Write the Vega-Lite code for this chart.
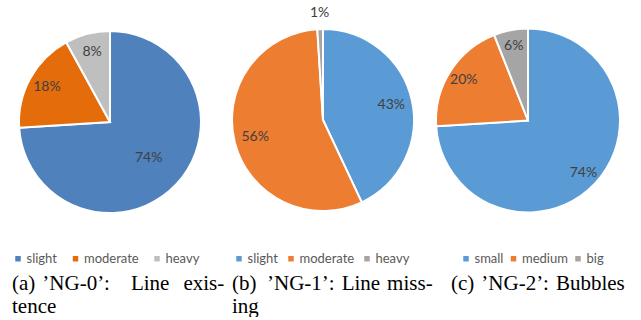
{
  "$schema": "https://vega.github.io/schema/vega-lite/v6.json",
  "padding": 0,
  "background": "white",
  "spacing": 0,
  "bounds": "flush",
  "datasets": {
    "ng0": [
      {"level": "slight", "share": 0.74, "rank": 1},
      {"level": "moderate", "share": 0.18, "rank": 2},
      {"level": "heavy", "share": 0.08, "rank": 3}
    ],
    "ng1": [
      {"level": "slight", "share": 0.43, "rank": 1},
      {"level": "moderate", "share": 0.56, "rank": 2},
      {"level": "heavy", "share": 0.01, "rank": 3}
    ],
    "ng2": [
      {"level": "small", "share": 0.74, "rank": 1},
      {"level": "medium", "share": 0.20, "rank": 2},
      {"level": "big", "share": 0.06, "rank": 3}
    ]
  },
  "config": {
    "view": {"stroke": null},
    "legend": {
      "orient": "none",
      "direction": "horizontal",
      "title": null,
      "padding": 0,
      "symbolType": "square",
      "symbolSize": 30,
      "symbolStrokeWidth": 0,
      "labelFont": "Lato",
      "labelFontSize": 13,
      "labelColor": "#595959",
      "labelOffset": 2
    },
    "title": {
      "orient": "bottom",
      "anchor": "start",
      "font": "Liberation Serif",
      "fontSize": 21,
      "fontWeight": "normal",
      "color": "#000000",
      "lineHeight": 23,
      "dy": 3
    }
  },
  "resolve": {"scale": {"color": "independent", "theta": "independent"}},
  "hconcat": [
    {
      "width": 220,
      "height": 244,
      "data": {"name": "ng0"},
      "title": {"text": ["(a)\u2004’NG-0’:\u2003Line\u2002\u2006exis-", "tence"], "dx": 12},
      "encoding": {
        "theta": {"field": "share", "type": "quantitative", "stack": true},
        "order": {"field": "rank"}
      },
      "layer": [
        {
          "mark": {"type": "arc", "outerRadius": 91, "stroke": "white", "strokeWidth": 2},
          "encoding": {
            "color": {
              "field": "level", "type": "nominal",
              "scale": {"domain": ["slight", "moderate", "heavy"], "range": ["#4F81BD", "#E46C0A", "#BFBFBF"]},
              "legend": {"legendX": 11.5, "legendY": 252, "columnPadding": 11.5}
            }
          }
        },
        {
          "mark": {"type": "text", "font": "Lato", "fontSize": 14, "color": "#404040", "radius": {"expr": "datum.share > 0.5 ? 53 : 72"}},
          "encoding": {
            "detail": {"field": "level"},
            "text": {"field": "share", "type": "quantitative", "format": ".0%"}
          }
        }
      ]
    },
    {
      "width": 206,
      "height": 240,
      "data": {"name": "ng1"},
      "title": {"text": ["(b)\u2002’NG-1’:\u2004Line\u2004miss-", "ing"], "dx": 12},
      "encoding": {
        "theta": {"field": "share", "type": "quantitative", "stack": true},
        "order": {"field": "rank"}
      },
      "layer": [
        {
          "mark": {"type": "arc", "outerRadius": 91, "stroke": "white", "strokeWidth": 2},
          "encoding": {
            "color": {
              "field": "level", "type": "nominal",
              "scale": {"domain": ["slight", "moderate", "heavy"], "range": ["#5B9BD5", "#ED7D31", "#A5A5A5"]},
              "legend": {"legendX": 12.5, "legendY": 252, "columnPadding": 6}
            }
          }
        },
        {
          "mark": {"type": "text", "font": "Lato", "fontSize": 14, "color": "#404040", "radius": {"expr": "datum.share < 0.05 ? 107 : 70"}},
          "encoding": {
            "detail": {"field": "level"},
            "text": {"field": "share", "type": "quantitative", "format": ".0%"}
          }
        }
      ]
    },
    {
      "width": 204,
      "height": 241,
      "data": {"name": "ng2"},
      "title": {"text": ["(c)\u2004’NG-2’:\u2004Bubbles"], "dx": 25},
      "encoding": {
        "theta": {"field": "share", "type": "quantitative", "stack": true},
        "order": {"field": "rank"}
      },
      "layer": [
        {
          "mark": {"type": "arc", "outerRadius": 92, "stroke": "white", "strokeWidth": 2},
          "encoding": {
            "color": {
              "field": "level", "type": "nominal",
              "scale": {"domain": ["small", "medium", "big"], "range": ["#5B9BD5", "#ED7D31", "#A5A5A5"]},
              "legend": {"legendX": 33.5, "legendY": 252, "columnPadding": 3.5}
            }
          }
        },
        {
          "mark": {"type": "text", "font": "Lato", "fontSize": 14, "color": "#404040", "radius": 76},
          "encoding": {
            "detail": {"field": "level"},
            "text": {"field": "share", "type": "quantitative", "format": ".0%"}
          }
        }
      ]
    }
  ]
}
